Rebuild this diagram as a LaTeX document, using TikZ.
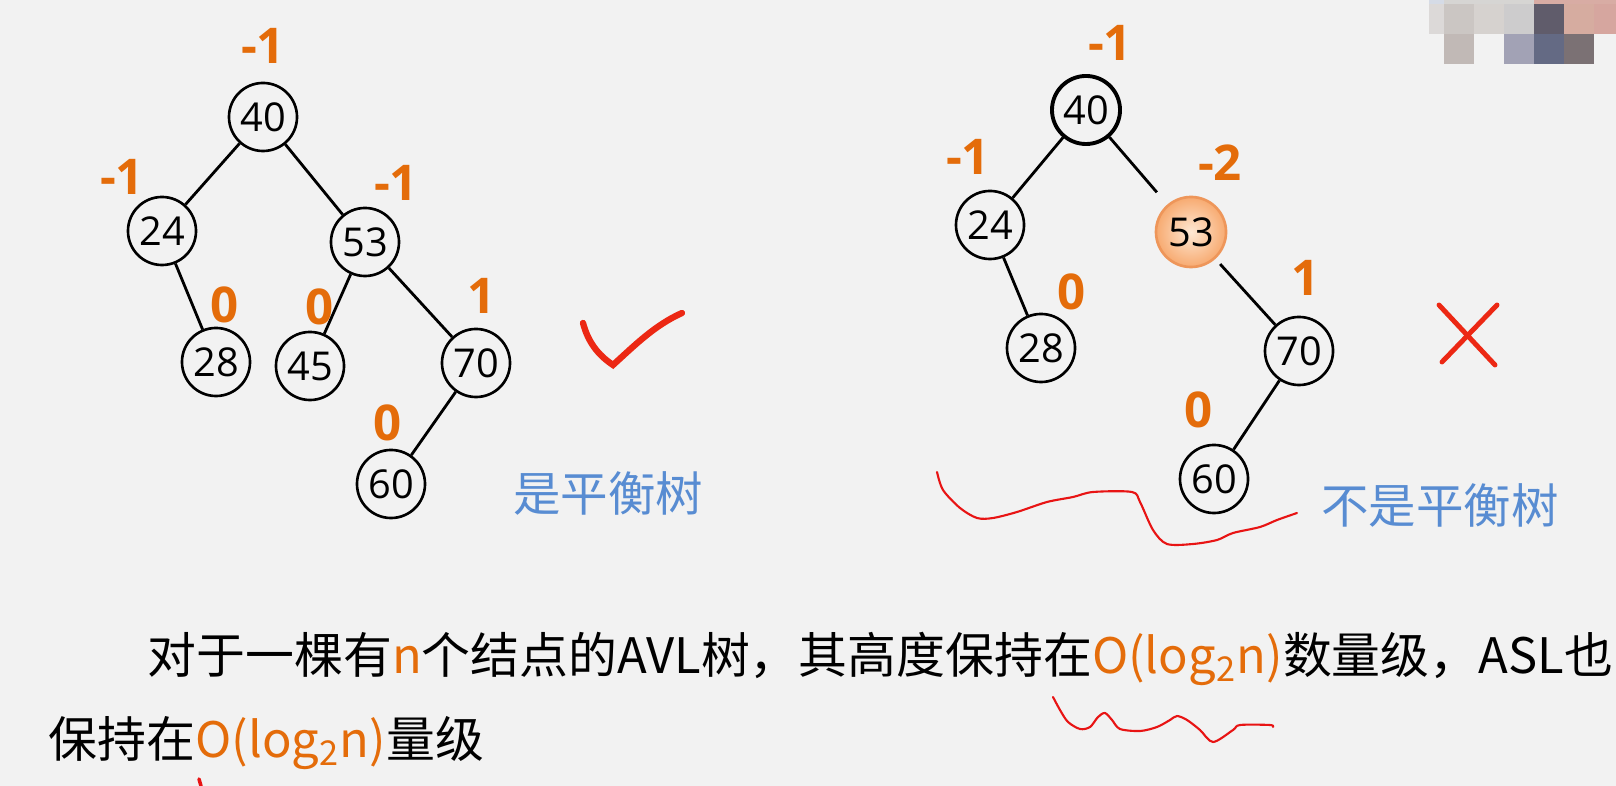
\documentclass[tikz,border=0pt]{standalone}
\usepackage{fontspec}
\setmainfont{Noto Sans CJK SC}
\newfontfamily\numfont{Open Sans}
\usetikzlibrary{positioning}

\definecolor{bgray}{HTML}{F2F2F2}
\definecolor{bforange}{RGB}{228,108,10}
\definecolor{noteblue}{RGB}{88,140,210}
\definecolor{penred}{RGB}{232,20,20}
\definecolor{markred}{RGB}{236,40,20}
\definecolor{peach}{RGB}{247,170,112}
\definecolor{peachlight}{RGB}{254,232,212}
\definecolor{peachedge}{RGB}{238,150,90}

\begin{document}
\begin{tikzpicture}[x=0.01cm, y=-0.01cm,
  tnode/.style={circle,draw,line width=0.75pt,minimum size=0.68cm,inner sep=0pt,
    font=\numfont\fontsize{11.3}{13}\selectfont},
  bfac/.style={text=bforange,inner sep=0pt,font=\numfont\bfseries\fontsize{14}{16}\selectfont},
  verdict/.style={text=noteblue,inner sep=0pt,font=\fontsize{13.5}{16}\selectfont},
  body/.style={anchor=west,inner sep=0pt,font=\fontsize{13.9}{16}\selectfont},
  edge/.style={line width=0.8pt},
  pen/.style={penred,line width=0.6pt,line cap=round,line join=round}]
  \useasboundingbox (0,0) rectangle (1616,786);
  \fill[bgray] (0,0) rectangle (1616,786);

  % blurred corner
  \foreach \xa/\ya/\xb/\yb/\hex in {1429/0/1444/4/D5DBE6, 1444/0/1534/4/D6D5D3,
      1534/0/1616/4/D8ACA4, 1429/4/1444/34/DCD9D8, 1444/4/1474/34/CBC6C3,
      1474/4/1504/34/D6D2CF, 1504/4/1534/34/CDCCCD, 1534/4/1564/34/605C6B,
      1564/4/1594/34/D6ACA0, 1594/4/1616/34/D6A69F, 1444/34/1474/64/C1B9B6,
      1504/34/1534/64/A2A2B5, 1534/34/1564/64/646A84, 1564/34/1594/64/7B7174}
    {\definecolor{mosaic}{HTML}{\hex}\fill[mosaic] (\xa,\ya) rectangle (\xb,\yb);}

  % balanced tree
  \node[tnode] (L40) at (263,117) {40};
  \node[tnode] (L24) at (162,231) {24};
  \node[tnode] (L53) at (365,242) {53};
  \node[tnode] (L28) at (216,362) {28};
  \node[tnode] (L45) at (310,366) {45};
  \node[tnode] (L70) at (476,363) {70};
  \node[tnode] (L60) at (391,484) {60};
  \draw[edge] (L40)--(L24);
  \draw[edge] (L40)--(L53);
  \draw[edge] (L24)--(L28);
  \draw[edge] (L53)--(L45);
  \draw[edge] (L53)--(L70);
  \draw[edge] (L70)--(L60);
  \node[bfac] (bL40) at (263,46) {-1};
  \node[bfac] (bL24) at (122,177) {-1};
  \node[bfac] (bL53) at (396,183) {-1};
  \node[bfac] (bL28) at (225,305) {0};
  \node[bfac] (bL45) at (320,307) {0};
  \node[bfac] (bL70) at (482,296) {1};
  \node[bfac] (bL60) at (388,423) {0};
  \node[verdict] (yes) at (608,493) {是平衡树};
  \draw[markred,line width=1.8pt,line cap=round] (583,323)
    .. controls (588,342) and (598,355) .. (613,365)
    .. controls (635,345) and (655,325) .. (682,313);

  % unbalanced tree
  \node[tnode,line width=1.1pt] (R40) at (1086,110) {40};
  \node[tnode] (R24) at (990,225) {24};
  \node[tnode,draw=peachedge,inner color=peachlight,outer color=peach,
    minimum size=0.7cm] (R53) at (1191,232) {53};
  \node[tnode] (R28) at (1041,348) {28};
  \node[tnode] (R70) at (1299,351) {70};
  \node[tnode] (R60) at (1214,479) {60};
  \draw[edge] (R40)--(R24);
  \draw[edge,shorten >=0.16cm] (R40)--(R53);
  \draw[edge] (R24)--(R28);
  \draw[edge,shorten <=0.07cm] (R53)--(R70);
  \draw[edge] (R70)--(R60);
  \node[bfac] (bR40) at (1110,43) {-1};
  \node[bfac] (bR24) at (968,157) {-1};
  \node[bfac] (bR53) at (1220,163) {-2};
  \node[bfac] (bR28) at (1072,292) {0};
  \node[bfac] (bR70) at (1306,278) {1};
  \node[bfac] (bR60) at (1199,410) {0};
  \node[verdict] (no) at (1440,505) {不是平衡树};
  \draw[markred,line width=1.4pt,line cap=round] (1439,305) -- (1495,365);
  \draw[markred,line width=1.4pt,line cap=round] (1497,305) -- (1442,362);
  \draw[pen] plot[smooth,tension=0.5] coordinates {(937,472) (943,490) (960,508)
    (977,518) (993,518) (1017,512) (1047,502) (1073,497) (1093,492) (1132,492)
    (1140,502) (1153,530) (1167,544) (1193,544) (1217,540) (1233,533) (1260,527)
    (1277,520) (1297,513)};

  % remark
  \node[body] (line1) at (147,659)
    {对于一棵有{\color{bforange}n}个结点的AVL树，其高度保持在{\color{bforange}O(log\textsubscript{2}n)}数量级，ASL也};
  \node[body] (line2) at (48,743)
    {保持在{\color{bforange}O(log\textsubscript{2}n)}量级};
  \draw[pen] plot[smooth,tension=0.5] coordinates {(1053,697) (1060,710)
    (1068,722) (1080,729) (1090,727) (1098,717) (1105,713) (1112,720) (1120,729)
    (1140,731) (1157,727) (1170,720) (1177,716) (1187,720) (1200,730) (1213,742)
    (1233,730) (1240,725) (1270,725) (1273,727)};
  \draw[pen,line width=1pt] (199,779) -- (201,786);
\end{tikzpicture}
\end{document}
